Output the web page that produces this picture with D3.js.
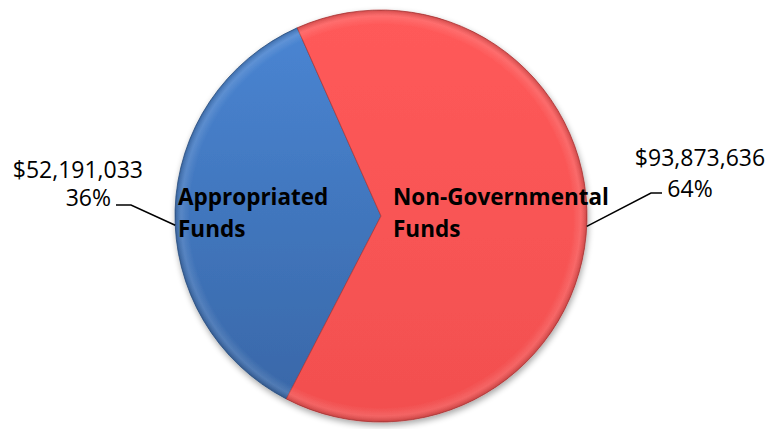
<!DOCTYPE html>
<html>
<head>
<meta charset="utf-8">
<script src="https://cdn.jsdelivr.net/npm/d3@7"></script>
<style>
  body { margin: 0; background: #fff; }
  svg text { font-family: "Open Sans", "Liberation Sans", sans-serif; }
</style>
</head>
<body>
<svg id="chart" width="773" height="429"></svg>
<script>
// chart values
var categories = ["Appropriated Funds", "Non-Governmental Funds"];
var amounts = [52191033, 93873636];
var amountLabels = ["$52,191,033", "$93,873,636"];
var percentLabels = ["36%", "64%"];
var nameLines = [["Appropriated", "Funds"], ["Non-Governmental", "Funds"]];
var topColors = ["#4a86d4", "#ff5a5a"];
var bottomColors = ["#3866a6", "#f24f4f"];
var edgeColors = ["#2d5488", "#b83a3a"];

var width = 773, height = 429;
var cx = 381, cy = 216, radius = 206;

const svg = d3.select("#chart");
const defs = svg.append("defs");

// soft shadow under the pie
var shadow = defs.append("filter").attr("id", "shadow")
    .attr("x", "-10%").attr("y", "-10%").attr("width", "120%").attr("height", "120%");
shadow.append("feGaussianBlur").attr("in", "SourceAlpha").attr("stdDeviation", 3);
shadow.append("feOffset").attr("dx", 1).attr("dy", 3).attr("result", "b");
shadow.append("feComponentTransfer").append("feFuncA").attr("type", "linear").attr("slope", 0.35);
var merge = shadow.append("feMerge");
merge.append("feMergeNode");
merge.append("feMergeNode").attr("in", "SourceGraphic");

// vertical gradient per slice, in the pie group's coords
categories.forEach((c, i) => {
    var g = defs.append("linearGradient").attr("id", "grad" + i)
        .attr("gradientUnits", "userSpaceOnUse")
        .attr("x1", 0).attr("y1", -radius).attr("x2", 0).attr("y2", radius);
    g.append("stop").attr("offset", "0%").attr("stop-color", topColors[i]);
    g.append("stop").attr("offset", "100%").attr("stop-color", bottomColors[i]);
});

// bevel highlight near the rim
var rim = defs.append("radialGradient").attr("id", "rim")
    .attr("gradientUnits", "userSpaceOnUse")
    .attr("cx", 0).attr("cy", 0).attr("r", radius);
rim.append("stop").attr("offset", "93%").attr("stop-color", "#fff").attr("stop-opacity", 0);
rim.append("stop").attr("offset", "97%").attr("stop-color", "#fff").attr("stop-opacity", 0.12);
rim.append("stop").attr("offset", "100%").attr("stop-color", "#000").attr("stop-opacity", 0.18);

// blue slice ends 24 degrees left of 12 o'clock
var endOffset = -24 * Math.PI / 180;
var total = d3.sum(amounts);
var start = endOffset - 2 * Math.PI * amounts[0] / total;
var pie = d3.pie().sort(null).value(d => d)
    .startAngle(start)
    .endAngle(start + 2 * Math.PI);
var arcs = pie(amounts);
var arc = d3.arc().innerRadius(0).outerRadius(radius);

var pieG = svg.append("g").attr("transform", `translate(${cx},${cy})`).attr("filter", "url(#shadow)");

pieG.selectAll("path.slice")
    .data(arcs)
    .enter()
    .append("path")
    .attr("class", "slice")
    .attr("d", arc)
    .attr("fill", (d, i) => "url(#grad" + i + ")")
    .attr("stroke", (d, i) => edgeColors[i])
    .attr("stroke-width", 0.8)
    .attr("stroke-linejoin", "round");

pieG.selectAll("path.rim")
    .data(arcs)
    .enter()
    .append("path")
    .attr("class", "rim")
    .attr("d", arc)
    .attr("fill", "url(#rim)");

// names inside the slices
var namePos = [[178, 205], [393, 205]];
nameLines.forEach((lines, i) => {
    var t = svg.append("text")
        .attr("x", namePos[i][0]).attr("y", namePos[i][1])
        .attr("font-size", 22.5).attr("font-weight", "bold").attr("fill", "#000");
    lines.forEach((l, j) => {
        t.append("tspan").attr("x", namePos[i][0]).attr("dy", j === 0 ? 0 : 32).text(l);
    });
});

// outside labels with leader lines
var leftLabel = svg.append("text").attr("text-anchor", "end").attr("font-size", 23).attr("fill", "#000");
leftLabel.append("tspan").attr("x", 143).attr("y", 178).text(amountLabels[0]);
leftLabel.append("tspan").attr("x", 111).attr("y", 206).text(percentLabels[0]);

var rightLabel = svg.append("text").attr("text-anchor", "middle").attr("font-size", 23).attr("fill", "#000");
rightLabel.append("tspan").attr("x", 700).attr("y", 166).text(amountLabels[1]);
rightLabel.append("tspan").attr("x", 690).attr("y", 197).text(percentLabels[1]);

// leader lines touch the rim at the slice edge
var leftAngle = -Math.PI / 2 - 0.045;
var rightAngle = Math.PI / 2 + 0.05;
var leftEdge = [cx + radius * Math.sin(leftAngle), cy - radius * Math.cos(leftAngle)];
var rightEdge = [cx + radius * Math.sin(rightAngle), cy - radius * Math.cos(rightAngle)];

var line = d3.line();
svg.append("path")
    .attr("d", line([[116, 205], [131, 205], leftEdge]))
    .attr("fill", "none").attr("stroke", "#000").attr("stroke-width", 1.5);
svg.append("path")
    .attr("d", line([rightEdge, [651, 193], [662, 193]]))
    .attr("fill", "none").attr("stroke", "#000").attr("stroke-width", 1.5);
</script>
</body>
</html>
